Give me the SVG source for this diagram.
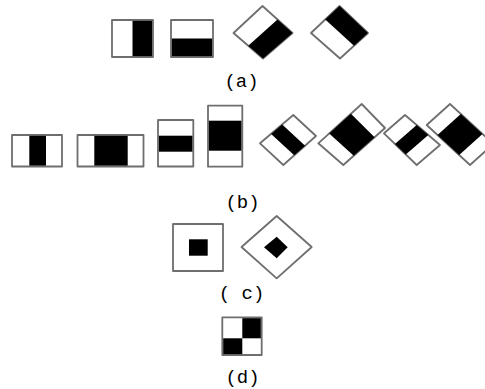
<svg xmlns="http://www.w3.org/2000/svg" width="485" height="389" viewBox="0 0 485 389">
<style>
.w{fill:#fff;stroke:#6e6e6e;stroke-width:1.8;stroke-linejoin:round}
.b{fill:#000;stroke:none}
.lbl{font-family:"Liberation Mono","DejaVu Sans Mono",monospace;font-size:19px;fill:#000;text-anchor:middle}
</style>
<rect width="485" height="389" fill="#fff"/>
<!-- (a) -->
<g id="a1"><rect class="w" x="112" y="20" width="41" height="37"/><rect class="b" x="132.5" y="20.9" width="19.6" height="35.2"/></g>
<g id="a2"><rect class="w" x="171" y="20" width="42" height="37"/><rect class="b" x="171.9" y="38.5" width="40.2" height="17.6"/></g>
<g id="a3"><polygon class="w" points="262.5,6 292.5,33 263,58.5 233.5,33"/><polygon class="b" points="277.5,19.5 292.5,33 263,58.5 248.25,45.75"/></g>
<g id="a4"><polygon class="w" points="339.5,6 368,33 340,58.5 311,33"/><polygon class="b" points="325.25,19.5 339.5,6 368,33 354,45.75"/></g>
<text class="lbl" x="241.5" y="87">(a)</text>
<!-- (b) -->
<g id="b1"><rect class="w" x="12" y="135" width="50" height="31.5"/><rect class="b" x="29.3" y="135.9" width="16.7" height="29.7"/></g>
<g id="b2"><rect class="w" x="77.5" y="135" width="66" height="31.5"/><rect class="b" x="94.3" y="135.9" width="33.4" height="29.7"/></g>
<g id="b3"><rect class="w" x="158" y="120" width="35.3" height="46.5"/><rect class="b" x="158.9" y="135.7" width="33.5" height="16"/></g>
<g id="b4"><rect class="w" x="208" y="105.7" width="34.3" height="61"/><rect class="b" x="208.9" y="120.7" width="32.5" height="30"/></g>
<g id="b5"><polygon class="w" points="293.3,115 316,136 283.3,165 260,143.3"/><polygon class="b" points="271.1,133.9 282.2,124.4 305.1,145.7 294.2,155.3"/></g>
<g id="b6"><polygon class="w" points="361.7,104 385,128 343.3,165 318.3,143.3"/><polygon class="b" points="329.2,133.5 350.9,113.8 374.6,137.25 353.7,155.75"/></g>
<g id="b7"><polygon class="w" points="405,115 440,145 416.7,165 384,133.3"/><polygon class="b" points="416.7,125 428.3,135 405.8,154.4 394.9,143.9"/></g>
<g id="b8"><polygon class="w" points="450,104 493.3,144 470,165 426.7,125"/><polygon class="b" points="460.8,114 482.5,134 459.2,155 437.5,135"/></g>
<text class="lbl" x="242.5" y="208">(b)</text>
<!-- (c) -->
<g id="c1"><rect class="w" x="173" y="224" width="50" height="47"/><rect class="b" x="189" y="239.3" width="18.7" height="16.4"/></g>
<g id="c2"><polygon class="w" points="276.7,216 311.7,247 276.7,278.3 241.5,247"/><polygon class="b" points="276.7,236.7 287.7,247.3 276.7,258.3 264,247.3"/></g>
<text class="lbl" x="241.5" y="298.5">( c)</text>
<!-- (d) -->
<g id="d1"><rect class="w" x="222.3" y="317.3" width="39.4" height="37.7"/><rect class="b" x="242.3" y="318.2" width="18.5" height="20.1"/><rect class="b" x="223.2" y="338.3" width="19.1" height="15.8"/></g>
<text class="lbl" x="242.5" y="383">(d)</text>
</svg>
